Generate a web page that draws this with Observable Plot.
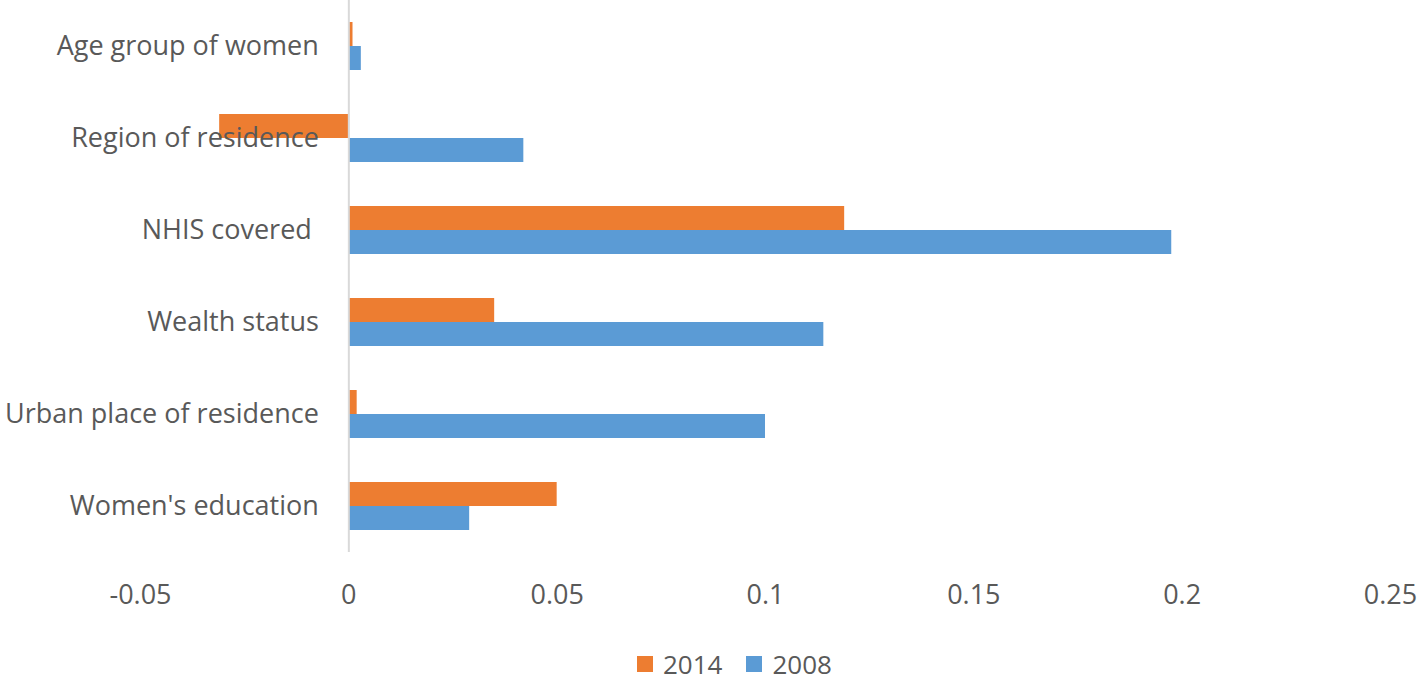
<!DOCTYPE html>
<html>
<head>
<meta charset="utf-8">
<script src="https://cdn.jsdelivr.net/npm/d3@7"></script>
<script src="https://cdn.jsdelivr.net/npm/@observablehq/plot@0.6"></script>
<style>
  html, body { margin: 0; padding: 0; background: #fff; }
  body { width: 1418px; height: 682px; position: relative; overflow: hidden; font-family: "Open Sans", sans-serif; color: #595959; }
  #legend { position: absolute; left: 637px; bottom: 0px; display: flex; align-items: center; font-size: 26px; line-height: normal; }
  #legend .sw { width: 16px; height: 16px; display: inline-block; margin-right: 10px; }
  #legend .item { display: flex; align-items: center; margin-right: 24px; }
</style>
</head>
<body>
<div id="chart"></div>
<div id="legend"></div>
<script>
const categories = ["Age group of women", "Region of residence", "NHIS covered ", "Wealth status", "Urban place of residence", "Women's education"];
const values2014 = [0.001, -0.031, 0.119, 0.035, 0.002, 0.050];
const values2008 = [0.003, 0.042, 0.1975, 0.114, 0.100, 0.029];
const years = ["2014", "2008"];
const colors = ["#ED7D31", "#5B9BD5"];
const xTicks = [-0.05, 0, 0.05, 0.1, 0.15, 0.2, 0.25];

const rows2014 = categories.map((c, i) => ({category: c, value: values2014[i]}));
const rows2008 = categories.map((c, i) => ({category: c, value: values2008[i]}));

const chart = Plot.plot({
  width: 1418,
  height: 625,
  marginLeft: 140,
  marginRight: 28,
  marginTop: 0,
  marginBottom: 73,
  style: {fontFamily: "Open Sans, sans-serif", fontSize: "27px", color: "#595959", background: "white", overflow: "visible"},
  x: {domain: [-0.05, 0.25], label: null},
  y: {domain: categories, paddingInner: 0.478, paddingOuter: 0.239, axis: null},
  marks: [
    Plot.barX(rows2014, {x: "value", y: "category", fill: colors[0], insetBottom: 24}),
    Plot.barX(rows2008, {x: "value", y: "category", fill: colors[1], insetTop: 24}),
    Plot.ruleX([0], {stroke: "#d9d9d9", strokeWidth: 2}),
    Plot.text(categories, {x: () => 0, y: d => d, text: d => d, dx: -30, textAnchor: "end", fill: "#595959", fontSize: 27, style: "white-space: pre"}),
    Plot.axisX({ticks: xTicks, tickSize: 0, tickPadding: 32, tickFormat: d => String(d), fill: "#595959", fontSize: 27, label: null})
  ]
});
document.getElementById("chart").appendChild(chart);

const legend = document.getElementById("legend");
years.forEach((y, i) => {
  const item = document.createElement("div");
  item.className = "item";
  const sw = document.createElement("span");
  sw.className = "sw";
  sw.style.background = colors[i];
  const t = document.createElement("span");
  t.textContent = y;
  item.appendChild(sw);
  item.appendChild(t);
  legend.appendChild(item);
});
</script>
</body>
</html>
